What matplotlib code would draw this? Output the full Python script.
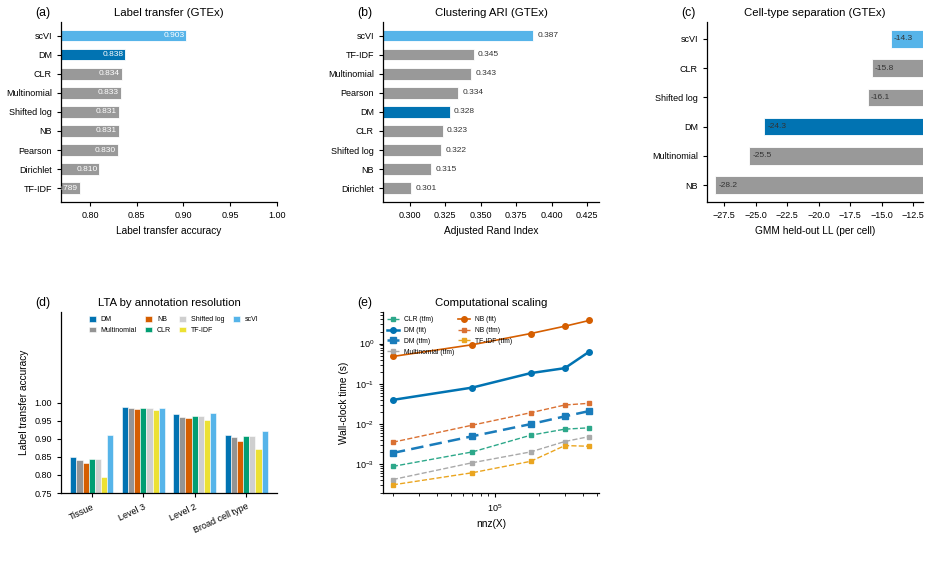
import numpy as np
import matplotlib
matplotlib.use("Agg")
import matplotlib.pyplot as plt

plt.rcParams['font.family'] = ['Liberation Sans', 'DejaVu Sans']
plt.rcParams['font.size'] = 6.5
plt.rcParams['axes.linewidth'] = 0.9
plt.rcParams['xtick.major.size'] = 3
plt.rcParams['ytick.major.size'] = 3
plt.rcParams['xtick.labelsize'] = 6.5
plt.rcParams['ytick.labelsize'] = 6.5

# colours
C_DM = '#0173B2'
C_SCVI = '#56B4E9'
C_GRAY = '#999999'
C_NB = '#D55E00'
C_CLR = '#029E73'
C_SL = '#CFCFCF'
C_TFIDF = '#ECE133'
C_MULT = '#949494'

# (a) label transfer
lta_methods = ['scVI', 'DM', 'CLR', 'Multinomial', 'Shifted log', 'NB', 'Pearson', 'Dirichlet', 'TF-IDF']
lta_values = [0.903, 0.838, 0.834, 0.833, 0.831, 0.831, 0.830, 0.810, 0.789]

# (b) clustering ARI
ari_methods = ['scVI', 'TF-IDF', 'Multinomial', 'Pearson', 'DM', 'CLR', 'Shifted log', 'NB', 'Dirichlet']
ari_values = [0.387, 0.345, 0.343, 0.334, 0.328, 0.323, 0.322, 0.315, 0.301]

# (c) GMM held-out LL
gmm_methods = ['scVI', 'CLR', 'Shifted log', 'DM', 'Multinomial', 'NB']
gmm_values = [-14.3, -15.8, -16.1, -24.3, -25.5, -28.2]

# (d) LTA by resolution
res_levels = ['Tissue', 'Level 3', 'Level 2', 'Broad cell type']
res_methods = ['DM', 'Multinomial', 'NB', 'CLR', 'Shifted log', 'TF-IDF', 'scVI']
res_dm = [0.851, 0.987, 0.968, 0.911]
res_mult = [0.842, 0.985, 0.961, 0.905]
res_nb = [0.833, 0.983, 0.957, 0.895]
res_clr = [0.843, 0.984, 0.962, 0.909]
res_sl = [0.843, 0.984, 0.962, 0.907]
res_tfidf = [0.795, 0.980, 0.952, 0.873]
res_scvi = [0.911, 0.986, 0.971, 0.923]

# (e) computational scaling
nnz = [2.0e4, 7.0e4, 1.75e5, 3.0e5, 4.4e5]
t_clr_tfm = [0.00089, 0.00204, 0.0053, 0.0075, 0.0081]
t_dm_fit = [0.040, 0.081, 0.185, 0.246, 0.63]
t_dm_tfm = [0.00192, 0.0050, 0.0100, 0.0156, 0.0211]
t_mult_tfm = [0.00042, 0.0011, 0.00204, 0.0037, 0.0049]
t_nb_fit = [0.48, 0.94, 1.78, 2.71, 3.76]
t_nb_tfm = [0.00355, 0.00944, 0.0192, 0.0299, 0.0329]
t_tfidf_tfm = [0.00031, 0.00062, 0.00119, 0.00293, 0.00282]


def bar_color(m):
    if m == 'DM':
        return C_DM
    if m == 'scVI':
        return C_SCVI
    return C_GRAY


def clean(ax):
    ax.spines['top'].set_visible(False)
    ax.spines['right'].set_visible(False)


def tag(ax, s):
    ax.annotate(s, xy=(-0.12, 1.0), xycoords='axes fraction', xytext=(0, 4.5),
                textcoords='offset points', fontsize=8.8, ha='left', va='baseline')


fig = plt.figure(figsize=(9.31, 5.74), dpi=100)
W = 0.232
lefts = [0.0655, 0.4114, 0.7594]
ax_a = fig.add_axes([lefts[0], 0.648, W, 0.314])
ax_b = fig.add_axes([lefts[1], 0.648, W, 0.314])
ax_c = fig.add_axes([lefts[2], 0.648, W, 0.314])
ax_d = fig.add_axes([lefts[0], 0.141, W, 0.315])
ax_e = fig.add_axes([lefts[1], 0.141, W, 0.315])

TITLE = 8.2
LABEL = 7.3

# (a)
y = np.arange(len(lta_methods))
ax_a.barh(y, lta_values, height=0.6, color=[bar_color(m) for m in lta_methods],
          edgecolor='white', linewidth=0.6)
for yi, v in zip(y, lta_values):
    ax_a.text(v - 0.002, yi, f'{v:.3f}', ha='right', va='center', color='white',
              fontsize=6, clip_on=True)
ax_a.set_yticks(y)
ax_a.set_yticklabels(lta_methods)
ax_a.invert_yaxis()
ax_a.set_xlim(0.769, 1.0)
ax_a.set_xticks([0.80, 0.85, 0.90, 0.95, 1.00])
ax_a.set_xlabel('Label transfer accuracy', fontsize=LABEL)
ax_a.set_title('Label transfer (GTEx)', fontsize=TITLE, pad=4.5)
clean(ax_a)
tag(ax_a, '(a)')

# (b)
y = np.arange(len(ari_methods))
ax_b.barh(y, ari_values, height=0.6, color=[bar_color(m) for m in ari_methods],
          edgecolor='white', linewidth=0.6)
for yi, v in zip(y, ari_values):
    ax_b.text(v + 0.003, yi, f'{v:.3f}', ha='left', va='center', color='#333333',
              fontsize=6)
ax_b.set_yticks(y)
ax_b.set_yticklabels(ari_methods)
ax_b.invert_yaxis()
ax_b.set_xlim(0.281, 0.4334)
ax_b.set_xticks([0.300, 0.325, 0.350, 0.375, 0.400, 0.425])
ax_b.set_xlabel('Adjusted Rand Index', fontsize=LABEL)
ax_b.set_title('Clustering ARI (GTEx)', fontsize=TITLE, pad=4.5)
clean(ax_b)
tag(ax_b, '(b)')

# (c)
y = np.arange(len(gmm_methods))
ax_c.barh(y, gmm_values, height=0.6, color=[bar_color(m) for m in gmm_methods],
          edgecolor='white', linewidth=0.6)
for yi, v in zip(y, gmm_values):
    ax_c.text(v + 0.25, yi, f'{v:.1f}', ha='left', va='center', color='#333333',
              fontsize=6)
ax_c.set_yticks(y)
ax_c.set_yticklabels(gmm_methods)
ax_c.invert_yaxis()
ax_c.set_xlim(-28.85, -11.73)
ax_c.set_xticks([-27.5, -25.0, -22.5, -20.0, -17.5, -15.0, -12.5])
ax_c.set_xlabel('GMM held-out LL (per cell)', fontsize=LABEL)
ax_c.set_title('Cell-type separation (GTEx)', fontsize=TITLE, pad=4.5)
clean(ax_c)
tag(ax_c, '(c)')

# (d)
res_series = [res_dm, res_mult, res_nb, res_clr, res_sl, res_tfidf, res_scvi]
res_colors = [C_DM, C_MULT, C_NB, C_CLR, C_SL, C_TFIDF, C_SCVI]
x = np.arange(len(res_levels))
bw = 0.12
for i, (name, vals, col) in enumerate(zip(res_methods, res_series, res_colors)):
    ax_d.bar(x + (i - 3) * bw, vals, width=bw, color=col, edgecolor='white',
             linewidth=0.4, label=name)
ax_d.set_xticks(x)
ax_d.set_xticklabels(res_levels, rotation=25, ha='right', rotation_mode='anchor')
ax_d.set_xlim(-0.6, 3.6)
ax_d.set_ylim(0.75, 1.25)
ax_d.set_yticks([0.75, 0.80, 0.85, 0.90, 0.95, 1.00])
ax_d.set_ylabel('Label transfer accuracy', fontsize=LABEL)
ax_d.set_title('LTA by annotation resolution', fontsize=TITLE, pad=4.5)
ax_d.legend(ncol=4, loc='upper left', bbox_to_anchor=(0.11, 1.0), frameon=False,
            fontsize=5.0, handlelength=1.0, handleheight=0.8, columnspacing=1.2,
            handletextpad=0.7, labelspacing=0.5, borderaxespad=0.2)
clean(ax_d)
tag(ax_d, '(d)')

# (e)
ax_e.plot(nnz, t_clr_tfm, '--s', color='#2DA88A', lw=1.0, ms=3.5, label='CLR (tfm)')
ax_e.plot(nnz, t_dm_fit, '-o', color=C_DM, lw=1.8, ms=4, label='DM (fit)')
ax_e.plot(nnz, t_dm_tfm, '--s', color='#1A7CBB', lw=1.8, ms=4, dashes=(5, 2.5), label='DM (tfm)')
ax_e.plot(nnz, t_mult_tfm, '--s', color='#AAAAAA', lw=1.0, ms=3.5, label='Multinomial (tfm)')
ax_e.plot(nnz, t_nb_fit, '-o', color=C_NB, lw=1.2, ms=4, label='NB (fit)')
ax_e.plot(nnz, t_nb_tfm, '--s', color='#DA7133', lw=1.0, ms=3.5, label='NB (tfm)')
ax_e.plot(nnz, t_tfidf_tfm, '--s', color='#EAA520', lw=1.0, ms=3.5, label='TF-IDF (tfm)')
ax_e.set_xscale('log')
ax_e.set_yscale('log')
ax_e.set_xlabel('nnz(X)', fontsize=LABEL)
ax_e.set_ylabel('Wall-clock time (s)', fontsize=LABEL)
ax_e.set_title('Computational scaling', fontsize=TITLE, pad=4.5)
ax_e.legend(ncol=2, loc='upper left', frameon=False, fontsize=4.9,
            handlelength=1.7, columnspacing=0.6, labelspacing=0.55,
            handletextpad=0.8, borderaxespad=0.2)
clean(ax_e)
tag(ax_e, '(e)')

fig.savefig('out.png', dpi=100)
